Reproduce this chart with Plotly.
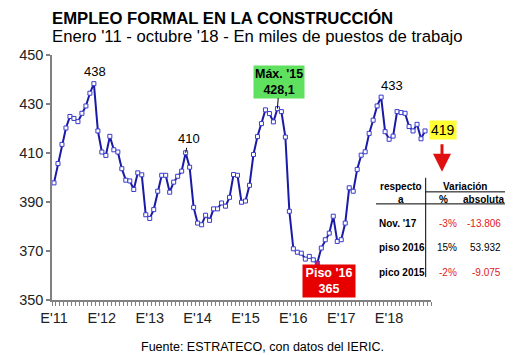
import plotly.graph_objects as go

# ---------------- data ----------------
values = [
    397.8, 405.7, 413.5, 420.2, 424.9, 424.1, 422.8, 426.2, 429.2, 434.4, 438.3, 419.0,   # 2011
    410.4, 409.0, 416.8, 411.3, 410.4, 403.6, 398.9, 398.6, 395.1, 401.9, 401.1, 384.8,   # 2012
    383.3, 386.9, 394.4, 400.9, 400.9, 394.0, 398.1, 400.5, 402.6, 410.1, 404.2, 387.8,   # 2013
    381.4, 380.7, 384.6, 382.5, 387.2, 387.2, 389.6, 388.3, 391.9, 401.2, 400.9, 389.9,   # 2014
    390.4, 396.8, 409.4, 416.7, 422.0, 427.6, 426.1, 422.7, 428.1, 426.9, 416.5, 386.2,   # 2015
    370.9, 369.5, 369.1, 366.7, 367.8, 366.4, 365.1, 371.2, 374.6, 377.3, 384.2, 373.9,   # 2016
    374.6, 381.4, 395.8, 394.4, 403.3, 409.1, 410.5, 418.0, 423.4, 429.2, 432.8, 418.7,   # 2017
    415.6, 416.9, 426.9, 426.5, 426.2, 420.8, 419.0, 421.7, 415.8, 419.0,                 # 2018
]
months = list(range(len(values)))
year_labels = ["E'11", "E'12", "E'13", "E'14", "E'15", "E'16", "E'17", "E'18"]
year_pos = [0, 12, 24, 36, 48, 60, 72, 84]
y_ticks = [350, 370, 390, 410, 430, 450]

table_rows = ["Nov. '17", "piso 2016", "pico 2015"]
table_pct = ["-3%", "15%", "-2%"]
table_abs = ["-13.806", "53.932", "-9.075"]

FONT = "Arial, 'Liberation Sans', sans-serif"
WIN_W, WIN_H = 530, 355
OFF = 8  # default page body margin
L, R, T, B = 52, 431, 55.3, 300  # plot area in window pixels

def px(x):
    return (x - L) / (R - L)

def py(y):
    return (B - y) / (B - T)

min_idx = values.index(min(values))
marker_fill = ["#d0206a" if i == min_idx else "white" for i in months]

fig = go.Figure()
fig.add_trace(go.Scatter(
    x=months, y=values, mode="lines+markers",
    line=dict(color="#1a1aa4", width=2),
    marker=dict(symbol="square", size=4, color=marker_fill,
                line=dict(color="#3a3ad0", width=1)),
    hoverinfo="skip", cliponaxis=False,
))

def txt(text, x, y, size=10, color="black", xanchor="center", **kw):
    d = dict(text=text, xref="paper", yref="paper", x=px(x), y=py(y), xanchor=xanchor,
             yanchor="middle", showarrow=False, font=dict(size=size, color=color, family=FONT))
    d.update(kw)
    return d

ann = []
ann.append(txt("<b>EMPLEO FORMAL EN LA CONSTRUCCIÓN</b>", 50, 19, size=16.7, xanchor="left"))
ann.append(txt("Enero '11 - octubre '18 - En miles de puestos de trabajo", 50, 36.5, size=16.7, xanchor="left"))
# point labels
ann.append(dict(text="438", x=10.3, y=443.4, xref="x", yref="y", showarrow=False,
                xanchor="center", yanchor="middle", font=dict(size=13, color="black", family=FONT)))
ann.append(dict(text="410", x=33, y=values[33], xref="x", yref="y", showarrow=True,
                ax=3, ay=-14, arrowhead=0, arrowwidth=1, arrowcolor="black", standoff=0,
                font=dict(size=13, color="black", family=FONT)))
ann.append(dict(text="433", x=84.6, y=437.4, xref="x", yref="y", showarrow=False,
                xanchor="center", yanchor="middle", font=dict(size=13, color="black", family=FONT)))
ann.append(dict(text="<b>Máx. '15<br>428,1</b>", x=56, y=values[56], xref="x", yref="y",
                showarrow=True, ax=2, ay=-27, arrowhead=0, arrowwidth=1, arrowcolor="black",
                bgcolor="#5fe05f", borderpad=1, standoff=0,
                font=dict(size=12.5, color="black", family=FONT)))
ann.append(txt("<b>Piso '16<br>365</b>", 329, 281, size=12.5, color="white",
               bgcolor="#e60000", borderpad=1, width=50))
ann.append(txt("419", 443, 130.5, size=14, bgcolor="#ffff33", borderpad=1))
# red arrow
ann.append(dict(text="", xref="paper", yref="paper", x=px(442), y=py(172),
                showarrow=True, ax=0, ay=-29, arrowhead=2, arrowsize=1.2, arrowwidth=3,
                arrowcolor="#e01010", standoff=0))
# source
ann.append(txt("Fuente: ESTRATECO, con datos del IERIC.", 262, 346.5, size=12.5))

# table
ann.append(txt("<b>respecto</b>", 401, 187))
ann.append(txt("<b>a</b>", 401, 199.5))
ann.append(txt("<b>Variación</b>", 465, 187))
ann.append(txt("<b>%</b>", 443, 199.5))
ann.append(txt("<b>absoluta</b>", 484, 199.5))
row_y = [224, 248, 272.5]
for lab, pc, ab, yy in zip(table_rows, table_pct, table_abs, row_y):
    col = "#e02020" if ab.startswith("-") else "black"
    ann.append(txt("<b>" + lab + "</b>", 377, yy, xanchor="left"))
    ann.append(txt(pc, 459, yy, color=col, xanchor="right"))
    ann.append(txt(ab, 503, yy, color=col, xanchor="right"))

shapes = [
    dict(type="line", xref="paper", yref="paper", x0=px(425.7), x1=px(425.7), y0=py(178), y1=py(277),
         line=dict(color="black", width=1)),
    dict(type="line", xref="paper", yref="paper", x0=px(425.7), x1=px(505), y0=py(192), y1=py(192),
         line=dict(color="black", width=1)),
    dict(type="line", xref="paper", yref="paper", x0=px(376), x1=px(505), y0=py(204), y1=py(204),
         line=dict(color="black", width=1)),
]

fig.update_layout(
    width=WIN_W - OFF, height=WIN_H - OFF,
    margin=dict(l=L - OFF, r=WIN_W - R, t=T - OFF, b=WIN_H - B, pad=0),
    paper_bgcolor="white", plot_bgcolor="white",
    showlegend=False,
    font=dict(family=FONT, color="black"),
    annotations=ann, shapes=shapes,
    xaxis=dict(range=[-0.5, 94.5], tickmode="array", tickvals=year_pos, ticktext=year_labels,
               ticks="outside", ticklen=4, tickcolor="rgba(0,0,0,0)",
               showgrid=False, zeroline=False, showline=True, linecolor="#808080",
               linewidth=1.5, tickfont=dict(size=14.5, color="#222", family=FONT),
               minor=dict(tickmode="linear", tick0=-0.5, dtick=1, ticks="outside", ticklen=4,
                          tickcolor="#808080", tickwidth=1, showgrid=False)),
    yaxis=dict(range=[350, 450], tickmode="array", tickvals=y_ticks, ticks="outside", ticklen=4,
               tickcolor="#808080", tickwidth=1.5, showgrid=False, zeroline=False, showline=True,
               linecolor="#808080", linewidth=1.5,
               tickfont=dict(size=14.5, color="#222", family=FONT)),
)

fig.write_html("out.html")
